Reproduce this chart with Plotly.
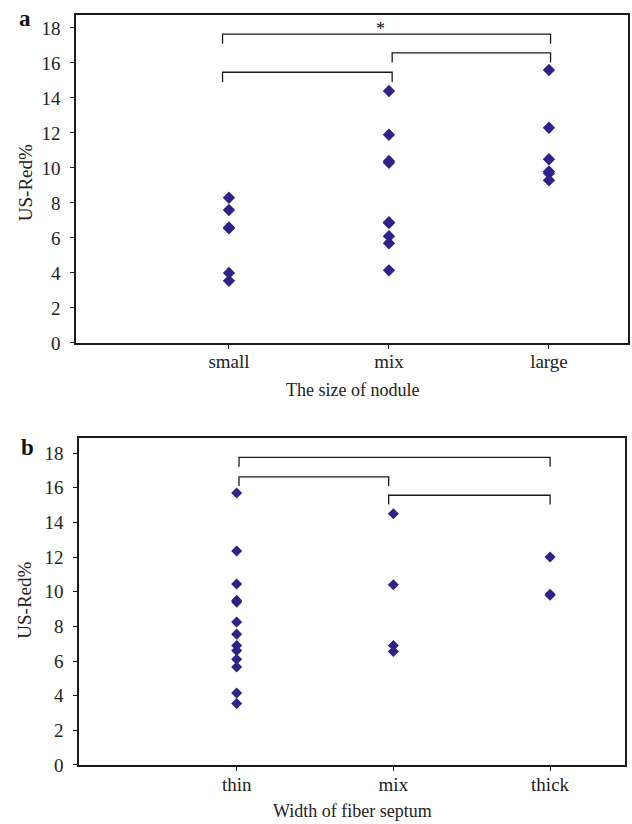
import plotly.graph_objects as go

# ---------------- data ----------------
size_categories = ["small", "mix", "large"]
size_small = [8.3, 7.6, 6.6, 6.55, 4.0, 3.55]
size_mix = [14.4, 11.9, 10.4, 10.3, 6.9, 6.85, 6.1, 5.7, 4.15]
size_large = [15.6, 12.3, 10.5, 9.8, 9.7, 9.3]

septum_categories = ["thin", "mix", "thick"]
septum_thin = [15.7, 12.35, 10.45, 9.5, 9.4, 8.25, 7.55, 6.9, 6.6, 6.1, 5.65, 4.15, 3.55]
septum_mix = [14.5, 10.4, 6.9, 6.55]
septum_thick = [12.0, 9.85, 9.8]

y_ticks = [0, 2, 4, 6, 8, 10, 12, 14, 16, 18]

# significance brackets: (from category index, to category index, height, left offset, right offset)
brackets_a = [(0, 2, 17.65, -0.04, 0.01), (0, 1, 15.47, -0.04, 0.02), (1, 2, 16.58, 0.02, 0.01)]
brackets_b = [(0, 2, 17.75, 0.015, 0.0), (0, 1, 16.63, 0.015, -0.03), (1, 2, 15.57, -0.03, 0.0)]
bracket_drop_a = 0.55
bracket_drop_b = 0.53
star_a = {"x": 0.95, "y": 17.65, "text": "*"}

# ---------------- style ----------------
MARKER_COLOR = "#2E2388"
FONT = "Liberation Serif"
W, H = 632, 824
YK = 824 / 812  # vertical calibration factor

fig = go.Figure()


def add_points(values_list, xaxis, yaxis, size):
    for i, vals in enumerate(values_list):
        fig.add_trace(go.Scatter(
            x=[i] * len(vals), y=vals, mode="markers",
            marker=dict(symbol="diamond", size=size, color=MARKER_COLOR, line=dict(width=0)),
            xaxis=xaxis, yaxis=yaxis, showlegend=False, hoverinfo="y"))


def add_brackets(brackets, drop, xaxis, yaxis):
    for a, b, h, oa, ob in brackets:
        xa, xb = a + oa, b + ob
        fig.add_trace(go.Scatter(
            x=[xa, xa, xb, xb], y=[h - drop, h, h, h - drop], mode="lines",
            line=dict(color="#1a1a1a", width=1.3),
            xaxis=xaxis, yaxis=yaxis, showlegend=False, hoverinfo="skip"))


add_points([size_small, size_mix, size_large], "x", "y", 9.5)
add_brackets(brackets_a, bracket_drop_a, "x", "y")
add_points([septum_thin, septum_mix, septum_thick], "x2", "y2", 8.5)
add_brackets(brackets_b, bracket_drop_b, "x2", "y2")


def px_x(p):
    return p / W


def px_y(p):
    return max(0.0, min(1.0, 1 - p * YK / H))


axis_common = dict(
    showline=True, linecolor="#1a1a1a", linewidth=1.5, mirror=True,
    showgrid=False, zeroline=False, ticks="outside", ticklen=4, tickcolor="#1a1a1a",
    tickfont=dict(family=FONT, size=19, color="#222"),
)

fig.update_layout(
    width=W, height=H, margin=dict(l=0, r=0, t=0, b=0),
    paper_bgcolor="white", plot_bgcolor="white",
    font=dict(family=FONT, color="#222"),
    xaxis=dict(domain=[px_x(76), px_x(628)], range=[-0.956, 2.494], ticklabelstandoff=-3,
               tickvals=[0, 1, 2], ticktext=size_categories, anchor="y", **axis_common),
    yaxis=dict(domain=[px_y(342.5), px_y(14.5)], range=[0, 18.77], ticklabelstandoff=6,
               tickvals=y_ticks, anchor="x", **axis_common),
    xaxis2=dict(domain=[px_x(79), px_x(625)], range=[-1.006, 2.478], ticklabelstandoff=-2,
                tickvals=[0, 1, 2], ticktext=septum_categories, anchor="y2", **axis_common),
    yaxis2=dict(domain=[px_y(764), px_y(437)], range=[0, 18.9], ticklabelstandoff=6,
                tickvals=y_ticks, anchor="x2", **axis_common),
)

annotations = [
    dict(text="<b>a</b>", x=px_x(25), y=px_y(18), xref="paper", yref="paper",
         showarrow=False, font=dict(family=FONT, size=23, color="#111"),
         xanchor="center", yanchor="middle"),
    dict(text="<b>b</b>", x=px_x(27), y=px_y(447), xref="paper", yref="paper",
         showarrow=False, font=dict(family=FONT, size=23, color="#111"),
         xanchor="center", yanchor="middle"),
    dict(text="US-Red%", x=px_x(25), y=px_y(183), xref="paper", yref="paper", textangle=-90,
         showarrow=False, font=dict(family=FONT, size=19, color="#222"),
         xanchor="center", yanchor="middle"),
    dict(text="US-Red%", x=px_x(25), y=px_y(600), xref="paper", yref="paper", textangle=-90,
         showarrow=False, font=dict(family=FONT, size=19, color="#222"),
         xanchor="center", yanchor="middle"),
    dict(text="The size of nodule", x=px_x(352), y=px_y(390), xref="paper", yref="paper",
         showarrow=False, font=dict(family=FONT, size=18, color="#222"),
         xanchor="center", yanchor="middle"),
    dict(text="Width of fiber septum", x=px_x(352), y=px_y(810), xref="paper", yref="paper",
         showarrow=False, font=dict(family=FONT, size=18, color="#222"),
         xanchor="center", yanchor="middle"),
    dict(text=star_a["text"], x=star_a["x"], y=star_a["y"], xref="x", yref="y",
         yanchor="bottom", yshift=-7, showarrow=False, font=dict(family=FONT, size=18, color="#111")),
]
fig.update_layout(annotations=annotations)

fig.write_html("out.html")
